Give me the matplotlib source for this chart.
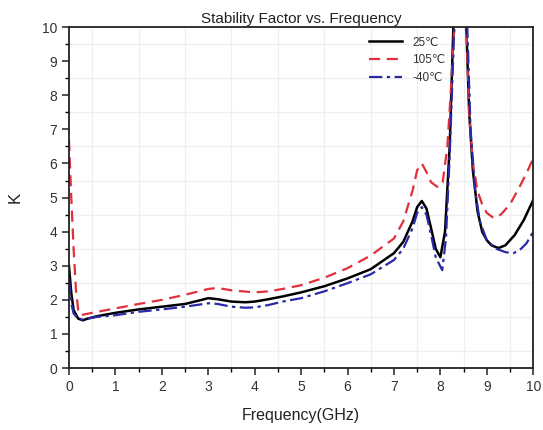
import numpy as np
import matplotlib
matplotlib.use("Agg")
import matplotlib.pyplot as plt
from matplotlib.ticker import MultipleLocator

plt.rcParams['font.family'] = ['Liberation Sans', 'DejaVu Sans']

# ---- data ----
labels = ["25℃", "105℃", "-40℃"]

f_25 = [0, 0.05, 0.1, 0.2, 0.3, 0.4, 0.6, 0.8, 1.0, 1.5, 2.0, 2.5, 2.8, 3.0, 3.2, 3.5,
        3.8, 4.0, 4.3, 4.6, 5.0, 5.5, 6.0, 6.5, 7.0, 7.2, 7.4, 7.5, 7.6, 7.7, 7.8,
        7.9, 8.0, 8.1, 8.2, 8.28, 8.35, 8.42, 8.5, 8.56, 8.62, 8.7, 8.8, 8.9, 9.0,
        9.1, 9.25, 9.4, 9.6, 9.8, 10.0]
k_25 = [3.0, 2.2, 1.7, 1.45, 1.4, 1.45, 1.52, 1.57, 1.62, 1.72, 1.8, 1.88, 1.98, 2.05,
        2.02, 1.95, 1.93, 1.95, 2.02, 2.1, 2.22, 2.4, 2.63, 2.9, 3.37, 3.7, 4.3, 4.72,
        4.9, 4.68, 4.1, 3.5, 3.25, 4.0, 6.5, 10, 13, 14, 12, 10, 7.5, 5.8, 4.6, 4.0,
        3.75, 3.6, 3.52, 3.6, 3.9, 4.35, 4.93]

f_105 = [0, 0.05, 0.1, 0.15, 0.2, 0.25, 0.35, 0.5, 0.8, 1.0, 1.5, 2.0, 2.5, 3.0, 3.2,
         3.5, 4.0, 4.3, 4.6, 5.0, 5.5, 6.0, 6.5, 7.0, 7.2, 7.4, 7.5, 7.6, 7.7, 7.8,
         7.95, 8.05, 8.15, 8.22, 8.3, 8.4, 8.5, 8.56, 8.62, 8.7, 8.8, 8.9, 9.0, 9.15,
         9.3, 9.5, 9.7, 9.85, 10.0]
k_105 = [6.7, 5.0, 3.5, 2.3, 1.7, 1.55, 1.58, 1.62, 1.7, 1.75, 1.88, 2.0, 2.15, 2.32,
         2.35, 2.28, 2.22, 2.25, 2.32, 2.43, 2.65, 2.93, 3.3, 3.8, 4.3, 5.2, 5.8, 6.0,
         5.75, 5.45, 5.3, 5.45, 6.5, 8.0, 10, 14, 13, 10, 7.5, 6.0, 5.2, 4.8, 4.55,
         4.4, 4.5, 4.8, 5.3, 5.7, 6.15]

f_m40 = [0, 0.05, 0.1, 0.2, 0.3, 0.4, 0.6, 1.0, 1.5, 2.0, 2.5, 3.0, 3.2, 3.5, 3.8,
         4.0, 4.3, 4.6, 5.0, 5.5, 6.0, 6.5, 7.0, 7.2, 7.4, 7.5, 7.6, 7.7, 7.8, 7.9,
         8.04, 8.12, 8.2, 8.3, 8.4, 8.5, 8.58, 8.65, 8.75, 8.85, 9.0, 9.2, 9.4, 9.57,
         9.7, 9.85, 10.0]
k_m40 = [2.6, 1.9, 1.6, 1.45, 1.42, 1.45, 1.5, 1.55, 1.65, 1.72, 1.8, 1.9, 1.88, 1.8,
         1.77, 1.78, 1.85, 1.95, 2.05, 2.25, 2.49, 2.75, 3.17, 3.5, 4.1, 4.55, 4.72,
         4.5, 3.9, 3.25, 2.87, 3.8, 6.2, 10, 13, 13.5, 10, 7.0, 5.2, 4.3, 3.75, 3.5,
         3.4, 3.37, 3.45, 3.65, 4.0]

fig = plt.figure(figsize=(5.43, 4.30), dpi=100)
ax = fig.add_axes([0.127, 0.144, 0.855, 0.793])

ax.plot(f_25, k_25, color='black', lw=1.8, label=labels[0])
ax.plot(f_105, k_105, color='#e0303c', lw=1.6, dashes=(5, 3), label=labels[1])
ax.plot(f_m40, k_m40, color='#2a2aa8', lw=1.6, dashes=(6, 2, 1.5, 2), label=labels[2])

ax.set_xlim(0, 10)
ax.set_ylim(0, 10)
ax.xaxis.set_major_locator(MultipleLocator(1))
ax.yaxis.set_major_locator(MultipleLocator(1))
ax.xaxis.set_minor_locator(MultipleLocator(0.5))
ax.yaxis.set_minor_locator(MultipleLocator(0.5))
ax.tick_params(which='major', direction='out', length=5, width=1.2, labelsize=10,
               colors='#333333')
ax.tick_params(which='minor', direction='out', length=3, width=1.0)
ax.grid(which='minor', color='#efefef', lw=0.9)
ax.set_axisbelow(True)
for s in ax.spines.values():
    s.set_linewidth(1.3)
    s.set_color('#222222')

ax.set_title("Stability Factor vs. Frequency", fontsize=11, pad=3, color='#222222')
ax.set_xlabel("Frequency(GHz)", fontsize=11.5, labelpad=10, color='#222222')
ax.set_ylabel("K", fontsize=12, labelpad=14, color='#222222')

leg = ax.legend(loc='upper left', bbox_to_anchor=(0.625, 1.0), frameon=False,
                fontsize=8.5, handlelength=2.8, labelspacing=0.5, borderpad=0.3,
                handletextpad=0.9)
for t in leg.get_texts():
    t.set_color('#333333')

fig.savefig("out.png", dpi=100)
